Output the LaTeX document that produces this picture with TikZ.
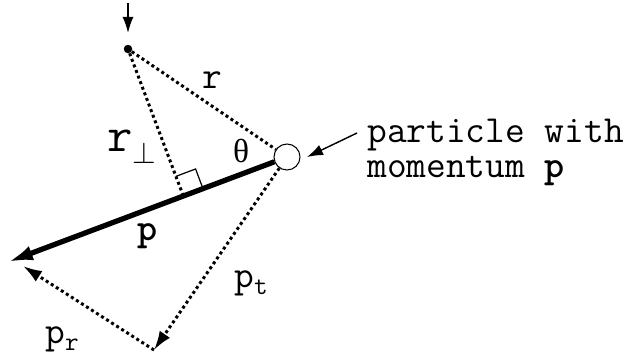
\documentclass[tikz,border=0pt]{standalone}
\usepackage{fontspec}
\newfontfamily\thetafont{Liberation Serif}
\usetikzlibrary{arrows.meta,calc}

\newcommand{\lowidx}[1]{\raisebox{-4pt}{\fontsize{15}{15}\selectfont #1}}

\begin{document}
\begin{tikzpicture}[
    x=0.02cm, y=-0.02cm,
    every node/.style={font=\ttfamily\fontsize{21.8}{19.5}\selectfont, inner sep=0pt},
    dotline/.style={line width=1.7pt, dash pattern=on 1.7pt off 1.7pt},
    dotarrow/.style={dotline, -{Latex[length=0.38cm, width=0.25cm]}},
    momentum/.style={line width=3pt, -{Latex[length=0.5cm, width=0.3cm]}},
    pointer/.style={line width=0.8pt, -{Latex[length=0.32cm, width=0.22cm]}}
]
\useasboundingbox (0,0) rectangle (628,356);

\node[circle, fill, minimum size=0.17cm] (orig) at (128,49) {};
\node[circle, draw, fill=white, line width=0.6pt, minimum size=0.52cm] (part) at (287,157) {};
\coordinate (tip) at (8,262);
\coordinate (q) at (154,350);
\coordinate (pr) at (23,266);
\coordinate (foot) at ($(part)!(orig)!(tip)$);
\coordinate (above) at (128,3);
\coordinate (ptail) at (357,133);
\coordinate (ptip) at (307,157);

% radius and lever arm
\draw[dotline] (orig) -- (part);
\draw[dotline] (orig) -- (foot);
\coordinate (ra1) at ($(foot)!0.42cm!(orig)$);
\coordinate (ra2) at ($(foot)!0.42cm!(part)$);
\draw[line width=0.7pt] (ra1) -- ($(ra1)+(ra2)-(foot)$) -- (ra2);

% momentum and its parts
\draw[momentum] (part) -- (tip);
\draw[dotarrow] (part) -- (q);
\draw[dotarrow] (q) -- (pr);

\draw[pointer, shorten >=0.23cm] (above) -- (orig);
\draw[pointer] (ptail) -- (ptip);

\node (rlab) at (212,80) {r};
\node (rperplab) at (132,147) {{\fontsize{28}{28}\selectfont r}\raisebox{-7pt}{\fontsize{17}{17}\selectfont$\perp$}};
\node (thetalab) at (241,151) {\thetafont\fontsize{19}{19}\selectfont θ};
\node (plab) at (148,236) {\textbf{p}};
\node (ptlab) at (251,283) {p\lowidx{t}};
\node (prlab) at (62,339) {p\lowidx{r}};
\node[anchor=base west, align=left] (partlab) at (367,177) {particle with\\momentum \textbf{p}};
\end{tikzpicture}
\end{document}
